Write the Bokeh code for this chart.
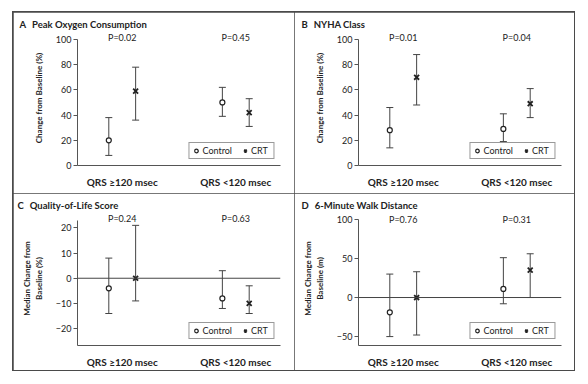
from bokeh.plotting import figure
from bokeh.models import (ColumnDataSource, Whisker, TeeHead, Range1d, FactorRange, FixedTicker,
                          Legend, LegendItem, LabelSet, Span, Title)
from bokeh.core.properties import value
from bokeh.transform import dodge
from bokeh.layouts import row, column
from bokeh.embed import file_html
from bokeh.resources import INLINE

groups = ["QRS \u2265120 msec", "QRS <120 msec"]

# A: Peak oxygen consumption (% change)
a_ctrl = [20, 50]
a_ctrl_lo = [8, 39]
a_ctrl_hi = [38, 62]
a_crt = [59, 42]
a_crt_lo = [36, 31]
a_crt_hi = [78, 53]
a_p = ["P=0.02", "P=0.45"]

# B: NYHA class
b_ctrl = [28, 29]
b_ctrl_lo = [14, 19]
b_ctrl_hi = [46, 41]
b_crt = [70, 49]
b_crt_lo = [48, 38]
b_crt_hi = [88, 61]
b_p = ["P=0.01", "P=0.04"]

# C: Quality-of-life score
c_ctrl = [-4, -8]
c_ctrl_lo = [-14, -12]
c_ctrl_hi = [8, 3]
c_crt = [0, -10]
c_crt_lo = [-9, -14]
c_crt_hi = [21, -3]
c_p = ["P=0.24", "P=0.63"]

# D: 6-minute walk distance
d_ctrl = [-19, 11]
d_ctrl_lo = [-50, -8]
d_ctrl_hi = [30, 51]
d_crt = [0, 35]
d_crt_lo = [-48, 0]
d_crt_hi = [33, 56]
d_p = ["P=0.76", "P=0.31"]

FONT = "Lato"
DARK = "#222222"
AX = "#555555"


def panel(letter, title, ylabel, ctrl, ctrl_lo, ctrl_hi, crt, crt_lo, crt_hi, pvals,
          ystart, ytop, yend, py, yticks, width, height, bottom, zero_line, tdx):
    xr = FactorRange(*groups, factor_padding=0.27, range_padding=0)
    p = figure(x_range=xr, y_range=Range1d(ystart, yend), width=width, height=height,
               output_backend="svg", toolbar_location=None,
               min_border_left=64, min_border_right=width - 64 - 203,
               min_border_top=18, min_border_bottom=bottom,
               background_fill_color="white", border_fill_color="white",
               styles={"outline": "1px solid #4a4a4a", "outline-offset": "-1px"})
    p.title = Title(text=letter + "\u2002\u2009" + title, align="left", offset=tdx,
                    standoff=1, vertical_align="bottom",
                    text_font=FONT, text_font_size="9.5px", text_font_style="bold",
                    text_color=DARK)
    p.outline_line_color = None
    p.xgrid.visible = False
    p.ygrid.visible = False

    src = ColumnDataSource(dict(group=groups, ctrl=ctrl, ctrl_lo=ctrl_lo, ctrl_hi=ctrl_hi,
                                crt=crt, crt_lo=crt_lo, crt_hi=crt_hi))
    cx = dodge("group", -0.15, range=xr)
    kx = dodge("group", 0.15, range=xr)

    if zero_line:
        p.add_layout(Span(location=0, dimension="width", line_color="#444444", line_width=1))

    for base, lo, hi in ((cx, "ctrl_lo", "ctrl_hi"), (kx, "crt_lo", "crt_hi")):
        p.add_layout(Whisker(source=src, base=base, lower=lo, upper=hi,
                             line_color="#444444", line_width=1,
                             lower_head=TeeHead(size=7, line_color="#444444", line_width=1),
                             upper_head=TeeHead(size=7, line_color="#444444", line_width=1)))

    r1 = p.scatter(x=cx, y="ctrl", source=src, marker="circle", size=5,
                   fill_color="white", line_color=DARK, line_width=1.2)
    r2 = p.scatter(x=kx, y="crt", source=src, marker="x", size=7,
                   line_color=DARK, line_width=1.8)

    legend = Legend(items=[LegendItem(label="Control", renderers=[r1]),
                           LegendItem(label="CRT", renderers=[r2])],
                    orientation="horizontal", location="bottom_right", margin=6,
                    padding=2, spacing=8, glyph_width=9, glyph_height=9,
                    label_height=8, label_standoff=2,
                    label_text_font=FONT, label_text_font_size="9px",
                    label_text_color=DARK,
                    border_line_color="#333333", border_line_width=1,
                    background_fill_color="white", background_fill_alpha=1)
    p.add_layout(legend)

    psrc = ColumnDataSource(dict(group=groups, p=pvals, y=[py, py]))
    p.add_layout(LabelSet(x="group", y="y", text="p", source=psrc,
                          text_align="center", text_baseline="middle",
                          text_font=value(FONT), text_font_size=value("9px"),
                          text_color=DARK))

    ya = p.yaxis[0]
    ya.bounds = (ystart, ytop)
    ya.ticker = FixedTicker(ticks=yticks)
    ya.axis_line_color = AX
    ya.major_tick_line_color = AX
    ya.major_tick_out = 4
    ya.major_tick_in = 0
    ya.minor_tick_line_color = None
    ya.major_label_text_font = FONT
    ya.major_label_text_font_size = "9px"
    ya.major_label_text_color = DARK
    ya.major_label_standoff = 2
    ya.axis_label = ylabel
    ya.axis_label_text_font = FONT
    ya.axis_label_text_font_size = "8px"
    ya.axis_label_text_font_style = "bold"
    ya.axis_label_text_color = DARK
    ya.axis_label_standoff = 9

    xa = p.xaxis[0]
    xa.axis_line_color = AX
    xa.major_tick_line_color = None
    xa.minor_tick_line_color = None
    xa.major_label_text_font = FONT
    xa.major_label_text_font_size = "10px"
    xa.major_label_text_font_style = "bold"
    xa.major_label_text_color = DARK
    xa.major_label_standoff = 4
    return p


pA = panel("A", "Peak Oxygen Consumption", "Change from Baseline (%)",
           a_ctrl, a_ctrl_lo, a_ctrl_hi, a_crt, a_crt_lo, a_crt_hi, a_p,
           0, 100, 107.1, 101.6, [0, 20, 40, 60, 80, 100], 281, 181, 28, False, -58)
pB = panel("B", "NYHA Class", "Change from Baseline (%)",
           b_ctrl, b_ctrl_lo, b_ctrl_hi, b_crt, b_crt_lo, b_crt_hi, b_p,
           0, 100, 107.1, 101.6, [0, 20, 40, 60, 80, 100], 280, 181, 28, False, -57)
pC = panel("C", "Quality-of-Life Score", "Median Change from\nBaseline (%)",
           c_ctrl, c_ctrl_lo, c_ctrl_hi, c_crt, c_crt_lo, c_crt_hi, c_p,
           -26.7, 22.8, 26.5, 23.9, [-20, -10, 0, 10, 20], 281, 177, 25, True, -60)
pD = panel("D", "6-Minute Walk Distance", "Median Change from\nBaseline (m)",
           d_ctrl, d_ctrl_lo, d_ctrl_hi, d_crt, d_crt_lo, d_crt_hi, d_p,
           -61.4, 100, 110.1, 100, [-50, 0, 50, 100], 280, 177, 24, True, -57)

layout = column(row(pA, pB), row(pC, pD), margin=(12, 0, 0, 13),
                styles={"outline": "1px solid #4a4a4a"})

open("out.html", "w").write(file_html(layout, INLINE))
